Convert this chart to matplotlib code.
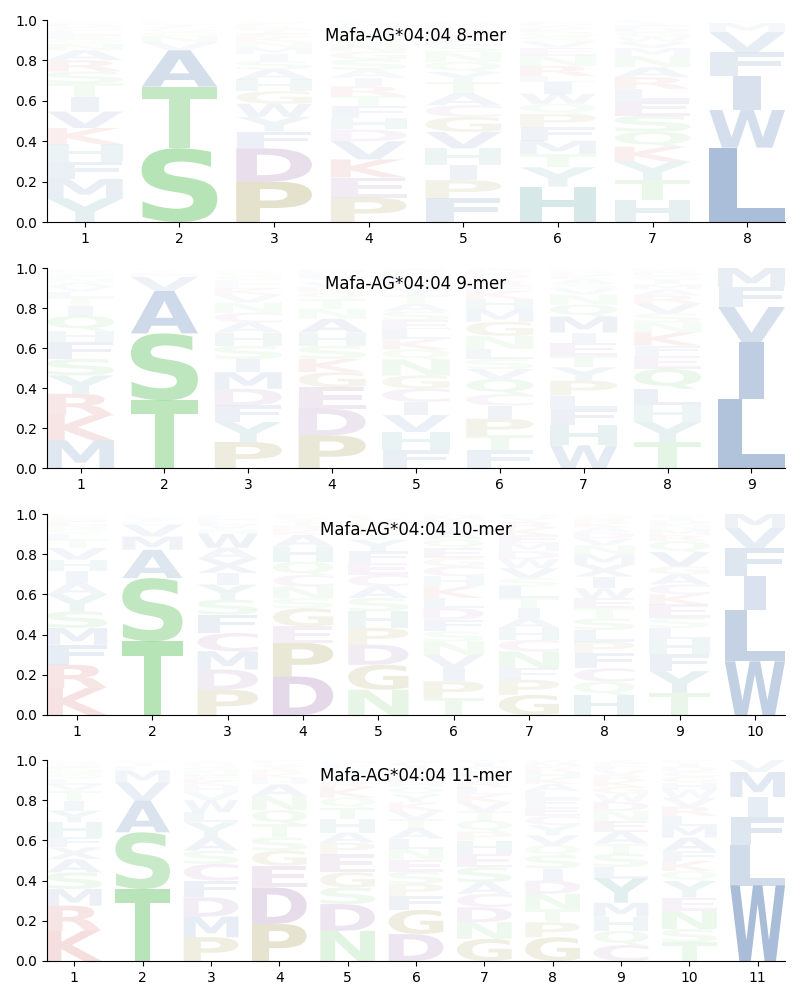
import matplotlib
matplotlib.use("Agg")
import matplotlib.pyplot as plt
from matplotlib.textpath import TextPath
from matplotlib.patches import PathPatch
from matplotlib.font_manager import FontProperties
from matplotlib.transforms import Affine2D

# ---------------- data (letters bottom -> top, probabilities) ----------------
titles = ["Mafa-AG*04:04 8-mer", "Mafa-AG*04:04 9-mer",
          "Mafa-AG*04:04 10-mer", "Mafa-AG*04:04 11-mer"]

mer8_letters = ["YMFHKVITSRANQELGDPWC", "STAVNGQCILMEKR", "PDFYWGHASIMNKETRLVQC",
                "PEKVDHFTRIASGNQYLMWC", "FPIHVGCATYQNSEKDLMRW", "HYTMFPQWILRNEVSGKADC",
                "HTYKQSELRANMVWGDFIPC", "LWIFVMYA"]
mer8_probs = [
    [.117, .096, .086, .086, .08, .082, .074, .066, .058, .056, .05, .03, .025, .02, .02, .018, .015, .012, .005, .004],
    [.365, .305, .18, .04, .03, .02, .015, .012, .01, .008, .006, .004, .003, .002],
    [.2, .165, .083, .072, .065, .063, .058, .05, .042, .034, .032, .028, .024, .02, .018, .014, .012, .01, .006, .004],
    [.12, .1, .09, .09, .058, .058, .057, .05, .049, .042, .04, .05, .04, .035, .032, .03, .025, .016, .012, .008],
    [.117, .09, .075, .082, .082, .074, .058, .058, .057, .05, .05, .048, .035, .03, .025, .022, .018, .012, .008, .006],
    [.175, .096, .066, .066, .066, .066, .05, .05, .058, .03, .05, .05, .04, .03, .025, .02, .018, .015, .012, .01],
    [.11, .098, .09, .075, .074, .08, .074, .058, .058, .05, .055, .04, .03, .025, .022, .02, .015, .012, .008, .006],
    [.368, .186, .17, .116, .1, .045, .01, .005],
]

mer9_letters = ["MKRYSFHQITLVANEGDPWC", "TSAVMLICGN", "PYFDMISHACNVKELGQRTW",
                "PDEGKSHANTQRVYLFMIC", "FHVICGNQKLESATYRMDPW", "FTPICQVSLNGMHKERYADW",
                "WHFLPYTEIMQNVSAKGRDC", "TYHLQEFKNSVRAMIGDWP", "LIVFM"]
mer9_probs = [
    [.138, .125, .108, .092, .083, .083, .058, .075, .05, .04, .03, .025, .022, .02, .015, .012, .01, .008, .004, .002],
    [.338, .335, .212, .07, .012, .01, .008, .005, .005, .005],
    [.13, .1, .083, .083, .083, .066, .066, .066, .05, .05, .05, .04, .03, .025, .02, .018, .015, .012, .008, .005],
    [.163, .133, .108, .075, .066, .066, .066, .07, .05, .05, .03, .028, .025, .02, .018, .012, .01, .006, .004],
    [.09, .09, .085, .066, .066, .066, .08, .05, .05, .05, .045, .045, .04, .04, .035, .03, .025, .02, .015, .01],
    [.088, .075, .083, .066, .058, .075, .05, .05, .05, .066, .07, .06, .055, .038, .028, .025, .02, .018, .015, .01],
    [.113, .1, .083, .066, .075, .066, .058, .066, .05, .08, .06, .05, .03, .025, .022, .018, .015, .012, .008, .003],
    [.13, .1, .083, .083, .1, .066, .05, .066, .05, .045, .05, .04, .03, .025, .022, .02, .018, .012, .01],
    [.347, .283, .175, .1, .095],
]

mer10_letters = ["KRFMSYAIHVTLQNEGDPW", "TSAMVLIGCNQ", "PDMCFSYIXAWNVLHEGQ",
                 "DPEGSNCQHAKRTYVLF", "NGDPHSACEFYTKRQVLM", "TPIVNSFDLKHCGEQAYRMW",
                 "GPFNCHAITLSVWDMEKRYQ", "HQCFPLSTEWIXMNVDAKRGY", "TYFHLSEKCAGVQRMNDIWP",
                 "WLIFVM"]
mer10_probs = [
    [.134, .116, .1, .083, .083, .083, .058, .058, .058, .058, .04, .03, .025, .02, .018, .015, .01, .006, .005],
    [.366, .315, .141, .066, .058, .015, .012, .01, .008, .005, .004],
    [.126, .1, .091, .091, .091, .075, .075, .058, .07, .055, .07, .025, .02, .018, .015, .01, .006, .004],
    [.192, .166, .083, .09, .05, .058, .058, .066, .075, .058, .025, .02, .018, .015, .012, .008, .006],
    [.126, .124, .1, .083, .083, .066, .058, .058, .058, .058, .058, .03, .025, .02, .018, .015, .012, .008],
    [.085, .083, .066, .066, .066, .05, .058, .058, .05, .058, .05, .05, .04, .05, .045, .04, .028, .025, .02, .012],
    [.1, .075, .058, .083, .058, .058, .05, .05, .05, .058, .04, .05, .045, .04, .04, .04, .035, .03, .022, .018],
    [.1, .066, .066, .075, .058, .058, .058, .05, .05, .05, .058, .06, .05, .045, .035, .03, .025, .022, .02, .015, .009],
    [.11, .108, .083, .075, .058, .05, .066, .05, .05, .05, .04, .07, .055, .03, .028, .025, .02, .015, .01, .007],
    [.267, .257, .166, .141, .1, .07],
]

mer11_letters = ["KRMSAXFHYITVLQNEGDP", "TSAVMLICG", "PMDFCSAYLWVHKENGQRT",
                 "PDEGSTQNAHKRYVLF", "NDSGEPAHTQKRYVLFMI", "DGFPSENLATVKYQHRMICW",
                 "GNDCASEHPQTVKLRYFMIW", "GPTNDISQVYCEFLAKHRMW", "CQHMYLSTAENDWGKRVFPI",
                 "TSNEYQKFAMLRVWHGCDIP", "WLFIMV"]
mer11_probs = [
    [.15, .125, .083, .083, .066, .058, .05, .075, .058, .05, .05, .03, .028, .025, .022, .018, .015, .01, .004],
    [.358, .282, .158, .09, .06, .02, .015, .01, .007],
    [.118, .103, .096, .083, .083, .066, .066, .075, .05, .06, .04, .03, .028, .025, .022, .02, .015, .012, .008],
    [.184, .182, .108, .075, .066, .066, .07, .07, .058, .03, .025, .02, .018, .012, .01, .006],
    [.15, .133, .083, .075, .09, .058, .05, .066, .058, .05, .05, .03, .028, .025, .02, .015, .012, .007],
    [.134, .12, .07, .06, .06, .06, .055, .05, .05, .045, .045, .04, .04, .035, .03, .03, .025, .02, .02, .01],
    [.11, .083, .075, .066, .058, .075, .066, .066, .045, .055, .045, .045, .04, .035, .03, .028, .025, .02, .018, .015],
    [.118, .075, .066, .075, .066, .06, .066, .05, .05, .05, .045, .045, .04, .04, .035, .03, .028, .025, .02, .016],
    [.08, .07, .07, .07, .12, .058, .066, .05, .058, .055, .05, .045, .04, .035, .03, .028, .025, .02, .02, .01],
    [.093, .066, .09, .066, .083, .05, .05, .05, .066, .058, .05, .045, .045, .04, .035, .03, .025, .025, .02, .013],
    [.375, .2, .141, .1, .124, .06],
]

panels_letters = [mer8_letters, mer9_letters, mer10_letters, mer11_letters]
panels_probs = [mer8_probs, mer9_probs, mer10_probs, mer11_probs]

# ---------------- style ----------------
group_colors = {
    "AFILMVWC": "#1b5198",
    "X": "#405a80",
    "STNQ": "#3cb53c",
    "HY": "#207e80",
    "KR": "#c02828",
    "DE": "#7a3d8f",
    "PG": "#7a7000",
}
letter_color = {}
for grp, col in group_colors.items():
    for ch in grp:
        letter_color[ch] = col
letter_color["C"] = "#8a4a8a"

fp = FontProperties(family="DejaVu Sans", weight="bold")
E_ext = TextPath((0, 0), "E", size=1, prop=fp).get_extents()
WIDTH = 0.8


def draw_letter(ax, ch, x, y0, h, color, alpha):
    p = TextPath((0, 0), ch, size=1, prop=fp)
    bb = p.get_extents()
    hs = min(WIDTH / bb.width, WIDTH / E_ext.width)
    vs = h / bb.height
    cw = bb.width * hs
    t = (Affine2D().translate(-bb.x0, -bb.y0).scale(hs, vs)
         .translate(x - cw / 2.0, y0))
    ax.add_patch(PathPatch(t.transform_path(p), facecolor=color,
                           edgecolor="none", alpha=alpha, lw=0))


fig = plt.figure(figsize=(8, 10), dpi=100)
tops = [20, 268, 514, 760]
bottoms = [222, 468, 715, 961]
left, right = 47, 785

for k in range(4):
    ax = fig.add_axes([left / 800, 1 - bottoms[k] / 1000,
                       (right - left) / 800, (bottoms[k] - tops[k]) / 1000])
    letters = panels_letters[k]
    probs = panels_probs[k]
    n = len(letters)
    for i in range(n):
        y = 0.0
        for ch, pr in zip(letters[i], probs[i]):
            draw_letter(ax, ch, i + 1, y, pr, letter_color[ch], min(1.0, pr))
            y += pr
    ax.set_xlim(0.6, n + 0.4)
    ax.set_ylim(0, 1)
    ax.set_xticks(range(1, n + 1))
    ax.set_yticks([0, 0.2, 0.4, 0.6, 0.8, 1.0])
    ax.set_yticklabels(["0.0", "0.2", "0.4", "0.6", "0.8", "1.0"])
    ax.spines["top"].set_visible(False)
    ax.spines["right"].set_visible(False)
    ax.text(0.5, 0.92, titles[k], transform=ax.transAxes, ha="center",
            va="center", fontsize=12)

fig.savefig("out.png", dpi=100)
